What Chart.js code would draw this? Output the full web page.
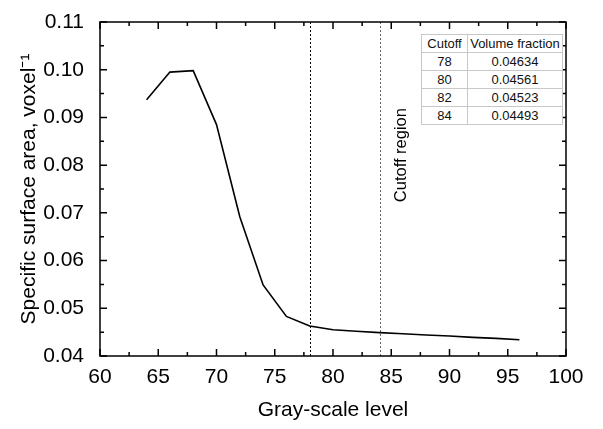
<!DOCTYPE html>
<html lang="en">
  <head>
    <meta charset="UTF-8" />
    <title>Specific surface area vs gray-scale level</title>
    <script src="https://cdn.jsdelivr.net/npm/chart.js"></script>
    <style>
      body { margin: 0; background: #fff; }
      #wrap { position: relative; width: 603px; height: 429px; }
      #cutoff-table {
        position: absolute;
        left: 421px;
        top: 34px;
        border-collapse: collapse;
        border: 1px solid #222;
        font: 13px 'Liberation Sans', Arial, sans-serif;
        color: #111;
        background: #fff;
      }
      #cutoff-table td {
        border: 1px solid #c8c8c8;
        height: 17px;
        padding: 0 2px;
        text-align: center;
        line-height: 17px;
      }
      #cutoff-table td:first-child { width: 41px; }
      #cutoff-table td:last-child { width: 90px; }
    </style>
  </head>
  <body>
    <div id="wrap">
      <canvas id="ssa-chart" width="603" height="429"></canvas>
      <table id="cutoff-table"></table>
    </div>

    <script>
      // gray-scale level vs specific surface area
      const grayLevels = [64, 66, 68, 70, 72, 74, 76, 78, 80, 82, 84, 86, 88, 90, 92, 94, 96];
      const surfaceArea = [
        0.0937, 0.0995, 0.0998, 0.0885, 0.0692, 0.0549, 0.0483, 0.0463, 0.0455,
        0.0452, 0.0449, 0.04465, 0.0444, 0.0442, 0.0439, 0.0437, 0.0434,
      ];

      // inset table
      const cutoffs = ['78', '80', '82', '84'];
      const volumeFractions = ['0.04634', '0.04561', '0.04523', '0.04493'];

      // dashed lines bounding the cutoff region
      const cutoffLines = [78, 84];
      const cutoffColors = ['#000', '#666'];

      const FONT = "'Liberation Sans', Arial, sans-serif";

      // fill the inset table
      const table = document.getElementById('cutoff-table');
      const head = table.insertRow();
      head.insertCell().textContent = 'Cutoff';
      head.insertCell().textContent = 'Volume fraction';
      cutoffs.forEach((c, i) => {
        const row = table.insertRow();
        row.insertCell().textContent = c;
        row.insertCell().textContent = volumeFractions[i];
      });

      // box + inward ticks on all four sides, dashed cutoff lines, label
      const framePlugin = {
        id: 'frame',
        afterDatasetsDraw(chart) {
          const { ctx, chartArea: a, scales } = chart;
          const xs = scales.x;
          const ys = scales.y;
          ctx.save();

          // cutoff lines
          ctx.lineWidth = 1;
          ctx.setLineDash([2, 2]);
          cutoffLines.forEach((v, i) => {
            const px = Math.round(xs.getPixelForValue(v)) + 0.5;
            ctx.strokeStyle = cutoffColors[i];
            ctx.beginPath();
            ctx.moveTo(px, a.top);
            ctx.lineTo(px, a.bottom);
            ctx.stroke();
          });
          ctx.setLineDash([]);

          // rotated label
          ctx.save();
          ctx.translate(xs.getPixelForValue(85.9), ys.getPixelForValue(0.0821));
          ctx.rotate(-Math.PI / 2);
          ctx.fillStyle = '#000';
          ctx.font = '16.5px ' + FONT;
          ctx.textAlign = 'center';
          ctx.textBaseline = 'middle';
          ctx.fillText('Cutoff region', 0, 0);
          ctx.restore();

          // ticks
          ctx.strokeStyle = '#000';
          ctx.lineWidth = 1.5;
          ctx.beginPath();
          for (let v = 60; v <= 100; v += 2.5) {
            const len = v % 5 === 0 ? 7 : 4;
            const px = xs.getPixelForValue(v);
            ctx.moveTo(px, a.bottom);
            ctx.lineTo(px, a.bottom - len);
            ctx.moveTo(px, a.top);
            ctx.lineTo(px, a.top + len);
          }
          for (let k = 0; k <= 14; k++) {
            const v = 0.04 + k * 0.005;
            const len = k % 2 === 0 ? 7 : 4;
            const py = ys.getPixelForValue(v);
            ctx.moveTo(a.left, py);
            ctx.lineTo(a.left + len, py);
            ctx.moveTo(a.right, py);
            ctx.lineTo(a.right - len, py);
          }
          ctx.stroke();

          // frame
          ctx.lineWidth = 1.5;
          ctx.strokeRect(a.left, a.top, a.right - a.left, a.bottom - a.top);
          ctx.restore();
        },
      };

      const ctx = document.getElementById('ssa-chart').getContext('2d');
      const chart = new Chart(ctx, {
        type: 'line',
        data: {
          datasets: [
            {
              data: grayLevels.map((g, i) => ({ x: g, y: surfaceArea[i] })),
              borderColor: '#000',
              borderWidth: 1.6,
              pointRadius: 0,
              tension: 0,
              fill: false,
            },
          ],
        },
        options: {
          responsive: false,
          animation: false,
          layout: { padding: { top: 22, right: 37, left: 0, bottom: 0 } },
          plugins: {
            legend: { display: false },
            tooltip: { enabled: false },
          },
          scales: {
            x: {
              type: 'linear',
              min: 60,
              max: 100,
              grid: { display: false },
              border: { display: false },
              ticks: {
                stepSize: 5,
                color: '#000',
                padding: 1,
                maxRotation: 0,
                font: { family: FONT, size: 21 },
              },
              title: {
                display: true,
                text: 'Gray-scale level',
                color: '#000',
                font: { family: FONT, size: 21 },
                padding: { top: 0, bottom: 6 },
              },
              afterFit(scale) {
                scale.height = 73;
              },
            },
            y: {
              min: 0.04,
              max: 0.11,
              grid: { display: false },
              border: { display: false },
              ticks: {
                stepSize: 0.01,
                color: '#000',
                padding: 8,
                font: { family: FONT, size: 21 },
                callback: (v) => v.toFixed(2),
              },
              title: {
                display: true,
                text: 'Specific surface area, voxel\u207B\u00B9',
                color: '#000',
                font: { family: FONT, size: 21 },
                padding: { top: 17, bottom: 0 },
              },
              afterFit(scale) {
                scale.width = 100;
              },
            },
          },
        },
        plugins: [framePlugin],
      });
    </script>
  </body>
</html>
